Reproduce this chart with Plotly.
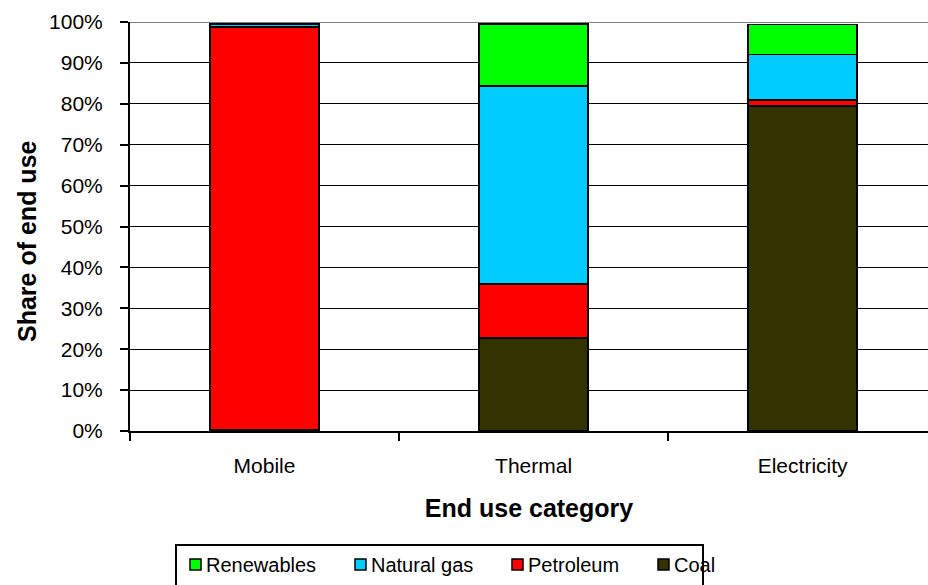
import plotly.graph_objects as go

# ---- data ----
categories = ["Mobile", "Thermal", "Electricity"]
coal = [0.4, 22.8, 79.5]
petroleum = [98.4, 13.1, 1.4]
natural_gas = [0.6, 48.4, 11.2]
renewables = [0.3, 15.2, 7.3]
y_ticks = [0, 10, 20, 30, 40, 50, 60, 70, 80, 90, 100]
y_ticklabels = [f"{v}%" for v in y_ticks]
x_title = "End use category"
y_title = "Share of end use"

series = [
    ("Coal", coal, "#333300"),
    ("Petroleum", petroleum, "#FF0000"),
    ("Natural gas", natural_gas, "#00CCFF"),
    ("Renewables", renewables, "#00FF00"),
]

W, H = 928, 585
ML, MR, MT, MB = 130, 0, 22, 154
PW, PH = W - ML - MR, H - MT - MB
FONT = "Liberation Sans, Arial, sans-serif"


def px(x):
    return (x - ML) / PW


def py(y):
    return (H - MB - y) / PH


fig = go.Figure()
for name, vals, col in series:
    fig.add_trace(go.Bar(
        x=categories, y=vals, name=name,
        marker=dict(color=col, line=dict(color="black", width=1.5)),
        width=0.405, showlegend=False,
    ))

shapes = []
annotations = []
# top gray border line at 100%
shapes.append(dict(type="line", xref="paper", yref="y", x0=0, x1=1, y0=100, y1=100,
                   line=dict(color="#808080", width=2)))
# legend box
shapes.append(dict(type="rect", xref="paper", yref="paper",
                   x0=px(176), x1=px(703), y0=py(600), y1=py(545),
                   line=dict(color="black", width=2), fillcolor="white", layer="below"))
legend_items = [("Renewables", "#00FF00", 190), ("Natural gas", "#00CCFF", 355),
                ("Petroleum", "#FF0000", 512), ("Coal", "#333300", 658)]
for name, col, x0 in legend_items:
    shapes.append(dict(type="rect", xref="paper", yref="paper",
                       x0=px(x0), x1=px(x0 + 11), y0=py(570), y1=py(559),
                       line=dict(color="black", width=1.5), fillcolor=col))
    annotations.append(dict(text=name, xref="paper", yref="paper", x=px(x0 + 14), y=py(565),
                            xanchor="left", yanchor="middle", showarrow=False,
                            font=dict(family=FONT, size=20, color="black")))
# y axis title
annotations.append(dict(text=f"<b>{y_title}</b>", xref="paper", yref="paper",
                        x=px(27), y=py(241), xanchor="center", yanchor="middle",
                        textangle=-90, showarrow=False,
                        font=dict(family=FONT, size=25, color="black")))

fig.update_layout(
    width=W, height=H,
    margin=dict(l=ML, r=MR, t=MT, b=MB, autoexpand=False),
    barmode="stack",
    plot_bgcolor="white", paper_bgcolor="white",
    font=dict(family=FONT, size=21, color="black"),
    shapes=shapes, annotations=annotations,
    showlegend=False,
)
fig.update_xaxes(
    range=[-0.5, 2.466], tickson="boundaries", ticks="outside", ticklen=8,
    tickcolor="black", tickwidth=1.5, showline=True, linecolor="black", linewidth=1.5,
    showgrid=False, ticklabelstandoff=15,
    title=dict(text=f"<b>{x_title}</b>", font=dict(size=25), standoff=24),
    automargin=False,
)
fig.update_yaxes(
    range=[0, 100], tickvals=y_ticks, ticktext=y_ticklabels,
    ticks="outside", ticklen=8, tickcolor="black", tickwidth=1.5,
    showline=True, linecolor="black", linewidth=2,
    showgrid=True, gridcolor="black", gridwidth=1.4, zeroline=False,
    ticklabelstandoff=13,
    automargin=False,
)

fig.write_html("out.html", config={"displayModeBar": False},
               post_script="document.body.style.margin='0';")
